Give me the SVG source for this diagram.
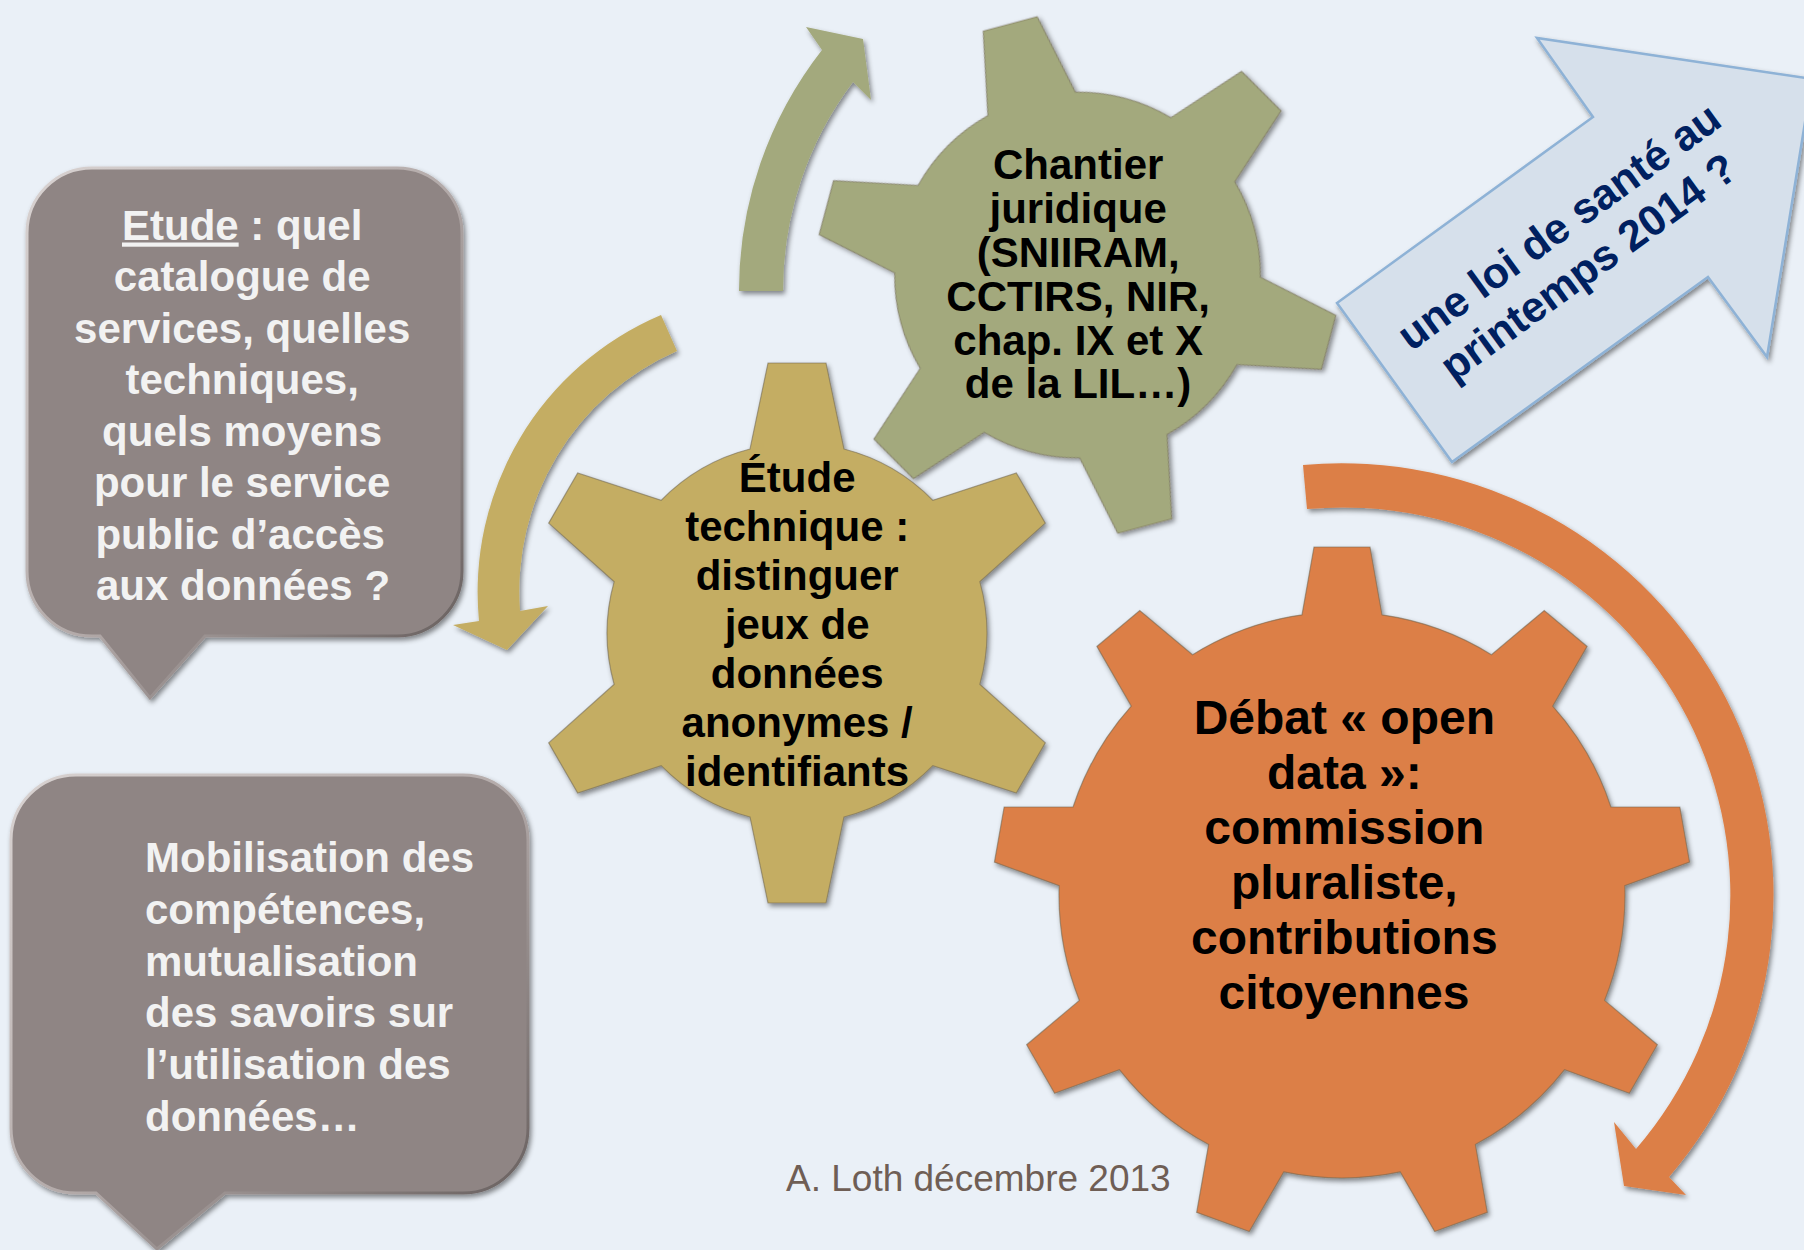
<svg xmlns="http://www.w3.org/2000/svg" xmlns:xlink="http://www.w3.org/1999/xlink" width="1804" height="1250" viewBox="0 0 1804 1250">
  <style>
    .bubble-text { font-family: "Liberation Sans", Arial, sans-serif; font-weight: bold; font-size: 42px; fill: #F2F2F2; }
    .gear-text { font-family: "Liberation Sans", Arial, sans-serif; font-weight: bold; font-size: 42px; fill: #000000; text-anchor: middle; }
    .gear-text-big { font-size: 48px; }
    .arrow-text { font-family: "Liberation Sans", Arial, sans-serif; font-weight: bold; font-size: 43px; fill: #002060; text-anchor: middle; }
    .footer { font-family: "Liberation Sans", Arial, sans-serif; font-size: 37px; fill: #6F5E55; }
    .bubble { fill: #8F8584; stroke: url(#bevel); stroke-width: 3; }
    .gear-edge { stroke: #6E6450; stroke-width: 1.2; stroke-opacity: 0.55; }
  </style>
  <defs>
    <filter id="shadow" x="-10%" y="-10%" width="120%" height="120%">
      <feDropShadow dx="2" dy="3" stdDeviation="2.5" flood-color="#000000" flood-opacity="0.45"/>
    </filter>
    <linearGradient id="bevel" x1="0" y1="0" x2="1" y2="1">
      <stop offset="0" stop-color="#D9D3D2"/>
      <stop offset="0.5" stop-color="#B3AAA9"/>
      <stop offset="1" stop-color="#5E5655"/>
    </linearGradient>
    <!-- six-tooth gear, centred on the origin, first tooth pointing up -->
    <path id="gear6" d="M -47 -184 L -29 -270 L 29 -270 L 47 -184 A 190 190 0 0 1 135.85 -132.70 L 219.32 -160.11 L 248.32 -109.89 L 182.85 -51.30 A 190 190 0 0 1 182.85 51.30 L 248.32 109.89 L 219.32 160.11 L 135.85 132.70 A 190 190 0 0 1 47 184 L 29 270 L -29 270 L -47 184 A 190 190 0 0 1 -135.85 132.70 L -219.32 160.11 L -248.32 109.89 L -182.85 51.30 A 190 190 0 0 1 -182.85 -51.30 L -248.32 -109.89 L -219.32 -160.11 L -135.85 -132.70 A 190 190 0 0 1 -47 -184 Z"/>
    <!-- nine-tooth gear -->
    <path id="gear9" d="M -40 -280.16 L -28 -348 L 28 -348 L 40 -280.16 A 283 283 0 0 1 149.44 -240.32 L 202.24 -284.58 L 245.14 -248.58 L 210.72 -188.90 A 283 283 0 0 1 268.95 -88.04 L 337.85 -88.00 L 347.57 -32.86 L 282.85 -9.26 A 283 283 0 0 1 262.63 105.44 L 315.38 149.75 L 287.38 198.25 L 222.63 174.72 A 283 283 0 0 1 133.41 249.58 L 145.33 317.43 L 92.71 336.59 L 58.23 276.94 A 283 283 0 0 1 -58.23 276.94 L -92.71 336.59 L -145.33 317.43 L -133.41 249.58 A 283 283 0 0 1 -222.63 174.72 L -287.38 198.25 L -315.38 149.75 L -262.63 105.44 A 283 283 0 0 1 -282.85 -9.26 L -347.57 -32.86 L -337.85 -88.00 L -268.95 -88.04 A 283 283 0 0 1 -210.72 -188.90 L -245.14 -248.58 L -202.24 -284.58 L -149.44 -240.32 A 283 283 0 0 1 -40 -280.16 Z"/>
  </defs>

  <rect x="0" y="0" width="1804" height="1250" fill="#EAF0F7"/>

  <!-- curved arrows between the gears -->
  <g id="connectors" filter="url(#shadow)">
    <path id="arc-green" fill="#A3A97D" d="M 739 291 A 391 391 0 0 1 822 50 L 806 27 L 863 39 L 871 100 L 853 82 A 347 347 0 0 0 783 291 Z"/>
    <path id="arc-tan" fill="#C4AD63" d="M 661 315 A 301 301 0 0 0 479 621 L 453 625 L 507 650 L 548 606 L 520 611 A 262 262 0 0 1 677 351 Z"/>
    <path id="arc-orange" fill="#DC7F46" d="M 1303 465 A 432 432 0 0 1 1669 1177 L 1686 1195 L 1624 1186 L 1614 1122 L 1636 1149 A 388 388 0 0 0 1307 509 Z"/>
  </g>

  <!-- callout: study -->
  <g id="callout-etude">
    <path class="bubble" filter="url(#shadow)" d="M 92 168 H 397 A 65 65 0 0 1 462 233 V 571 A 65 65 0 0 1 397 636 H 205 L 150 698 L 100 636 H 92 A 65 65 0 0 1 27 571 V 233 A 65 65 0 0 1 92 168 Z"/>
    <text class="bubble-text" text-anchor="middle">
      <tspan x="248" y="239.5"><tspan style="text-decoration:underline">Etude</tspan> : quel</tspan>
      <tspan x="248" y="291">catalogue de</tspan>
      <tspan x="248" y="342.5">services, quelles</tspan>
      <tspan x="248" y="394">techniques,</tspan>
      <tspan x="248" y="445.5">quels moyens</tspan>
      <tspan x="248" y="497">pour le service</tspan>
      <tspan x="246" y="548.5">public d’accès</tspan>
      <tspan x="243" y="600">aux données ?</tspan>
    </text>
  </g>

  <!-- callout: skills -->
  <g id="callout-mobilisation">
    <path class="bubble" filter="url(#shadow)" d="M 76 775 H 463 A 65 65 0 0 1 528 840 V 1128 A 65 65 0 0 1 463 1193 H 225 L 157 1249 L 96 1193 H 76 A 65 65 0 0 1 11 1128 V 840 A 65 65 0 0 1 76 775 Z"/>
    <text class="bubble-text">
      <tspan x="145" y="872">Mobilisation des</tspan>
      <tspan x="145" y="923.8">compétences,</tspan>
      <tspan x="145" y="975.6">mutualisation</tspan>
      <tspan x="145" y="1027.4">des savoirs sur</tspan>
      <tspan x="145" y="1079.2">l’utilisation des</tspan>
      <tspan x="145" y="1131">données…</tspan>
    </text>
  </g>

  <!-- gear: legal work -->
  <g id="gear-chantier">
    <use href="#gear6" xlink:href="#gear6" class="gear-edge" fill="#A3A97D" filter="url(#shadow)" transform="translate(1077.5 275) rotate(-15) scale(0.963)"/>
    <text class="gear-text">
      <tspan x="1084" y="179">Chantier</tspan>
      <tspan x="1084" y="223">juridique</tspan>
      <tspan x="1084" y="267">(SNIIRAM,</tspan>
      <tspan x="1084" y="311">CCTIRS, NIR,</tspan>
      <tspan x="1084" y="355">chap. IX et X</tspan>
      <tspan x="1078" y="398">de la LIL…)</tspan>
    </text>
  </g>

  <!-- gear: technical study -->
  <g id="gear-etude-technique">
    <use href="#gear6" xlink:href="#gear6" class="gear-edge" fill="#C4AD63" filter="url(#shadow)" transform="translate(797 633)"/>
    <text class="gear-text">
      <tspan x="803" y="492">Étude</tspan>
      <tspan x="803" y="541">technique :</tspan>
      <tspan x="803" y="590">distinguer</tspan>
      <tspan x="803" y="639">jeux de</tspan>
      <tspan x="803" y="688">données</tspan>
      <tspan x="803" y="737">anonymes /</tspan>
      <tspan x="797" y="786">identifiants</tspan>
    </text>
  </g>

  <!-- gear: open data debate -->
  <g id="gear-debat">
    <use href="#gear9" xlink:href="#gear9" class="gear-edge" fill="#DC7F46" filter="url(#shadow)" transform="translate(1342 895)"/>
    <text class="gear-text gear-text-big">
      <tspan x="1351" y="734">Débat « open</tspan>
      <tspan x="1351" y="789">data »:</tspan>
      <tspan x="1351" y="844">commission</tspan>
      <tspan x="1351" y="899">pluraliste,</tspan>
      <tspan x="1351" y="954">contributions</tspan>
      <tspan x="1344" y="1009">citoyennes</tspan>
    </text>
  </g>

  <!-- block arrow: health law -->
  <g id="arrow-loi-sante">
    <path fill="#D6E0EB" stroke="#8EB2D6" stroke-width="2.5" stroke-linejoin="miter" filter="url(#shadow)" d="M 1337 303 L 1593 117 L 1537 38 L 1812 79 L 1767 357 L 1708 277 L 1452 462 Z"/>
    <g transform="translate(1587 255) rotate(-36)">
      <text class="arrow-text">
        <tspan x="0" y="-25">une loi de santé au</tspan>
        <tspan x="-6" y="25">printemps 2014 ?</tspan>
      </text>
    </g>
  </g>

  <text id="footer" class="footer" x="786" y="1191">A. Loth décembre 2013</text>
</svg>
